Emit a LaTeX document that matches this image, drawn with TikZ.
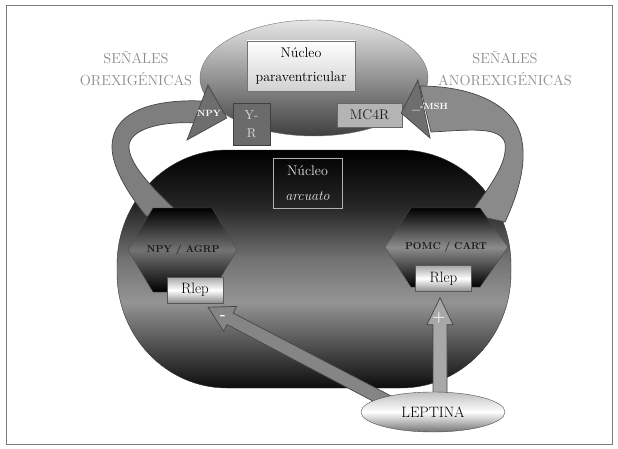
\documentclass[tikz,border=0pt]{standalone}
\usepackage{fontspec}
\definecolor{Sigcol}{HTML}{8C8C8C}
\definecolor{Framecol}{HTML}{7A7A7A}
\definecolor{Ribcol}{HTML}{7E7E7E}
\definecolor{Ribcoltwo}{HTML}{8A8A8A}
\definecolor{Ribedge}{HTML}{454545}
\definecolor{Headcol}{HTML}{6E6E6E}
\definecolor{Ycol}{HTML}{6B6B6B}
\definecolor{Mcol}{HTML}{B4B4B4}
\definecolor{Lcol}{HTML}{858585}
\definecolor{Rcol}{HTML}{A8A8A8}
\definecolor{Textcol}{HTML}{1A1A1A}
\usetikzlibrary{calc, positioning, shapes.geometric}
\pgfdeclareverticalshading{arcshade}{100bp}{color(0bp)=(black); color(25bp)=(black!95);
    color(43bp)=(black!42); color(52bp)=(black!55); color(63bp)=(black!85); color(75bp)=(black); color(100bp)=(black)}
\tikzset{
    font=\rmfamily,
    ribbon/.style={draw=Ribedge, line width=0.7pt, fill=Ribcol},
    ribhead/.style={fill=Headcol, draw=Ribedge, line width=0.7pt},
    riblabel/.style={text=white, font=\bfseries\fontsize{9}{10}\selectfont, inner sep=0pt},
    siglabel/.style={text=Sigcol, align=center, inner sep=0pt, font=\fontsize{14.5}{22}\selectfont},
    pvbox/.style={draw=black!55, top color=white, bottom color=black!18, minimum width=108pt, minimum height=50pt, align=center, inner sep=0pt, font=\fontsize{14}{24}\selectfont},
    yrbox/.style={draw=black!75, fill=Ycol, minimum width=37pt, minimum height=42pt, align=center, inner sep=0pt, text=black!12, font=\fontsize{13}{18}\selectfont},
    mcbox/.style={draw=black!60, fill=Mcol, minimum width=65pt, minimum height=24pt, inner sep=0pt, text=Textcol, font=\fontsize{14}{16}\selectfont},
    arcbox/.style={draw=black!30, minimum width=69pt, minimum height=50pt, align=center, inner sep=0pt, text=black!10, font=\fontsize{14}{25}\selectfont},
    hexfill/.style={top color=black, bottom color=black, middle color=black!55, draw=black!70},
    hexlabel/.style={text=Textcol, font=\bfseries\fontsize{10}{12}\selectfont, inner sep=0pt},
    rlepbox/.style={draw=black!65, top color=black!35, bottom color=black!45, middle color=white, minimum width=56pt, minimum height=26pt, inner sep=0pt, font=\fontsize{15}{17}\selectfont},
    lepnode/.style={ellipse, draw=black!70, top color=black!25, bottom color=black!55, middle color=white, minimum width=144pt, minimum height=40pt, inner sep=0pt, font=\fontsize{15}{17}\selectfont},
    signlabel/.style={text=white, font=\bfseries\fontsize{15}{17}\selectfont, inner sep=0pt}
}
% block arrow: style, start, tip, half shaft, half head, head length
\newcommand{\blockarrow}[6]{%
    \coordinate (ba-s) at (#2);
    \coordinate (ba-t) at (#3);
    \coordinate (ba-b) at ($(ba-t)!#6!(ba-s)$);
    \filldraw[#1] ($(ba-s)!#4!90:(ba-t)$) -- ($(ba-b)!#4!90:(ba-t)$) -- ($(ba-b)!#5!90:(ba-t)$)
        -- (ba-t) -- ($(ba-b)!#5!-90:(ba-t)$) -- ($(ba-b)!#4!-90:(ba-t)$) -- ($(ba-s)!#4!-90:(ba-t)$) -- cycle;
}

\begin{document}
\begin{tikzpicture}[x=1pt, y=1pt]
    % Canvas and frame
    \useasboundingbox (0,0) rectangle (618,448);
    \draw[Framecol, line width=0.8pt] (6,4) rectangle (612,443);

    % Signal labels
    \node[siglabel] (orexi) at (136,379) {SEÑALES\\OREXIGÉNICAS};
    \node[siglabel] (anorexi) at (505,379) {SEÑALES\\ANOREXIGÉNICAS};

    % Arcuate nucleus body
    \shade[shading=arcshade, draw=black!80]
        (227,298) -- (401,298) arc[start angle=90, end angle=0, x radius=110pt, y radius=115pt]
        -- (511,175) arc[start angle=0, end angle=-90, x radius=110pt, y radius=115pt]
        -- (227,60) arc[start angle=270, end angle=180, x radius=110pt, y radius=115pt]
        -- (117,183) arc[start angle=180, end angle=90, x radius=110pt, y radius=115pt] -- cycle;
    \node[arcbox] (ARC) at (307.5,265) {Núcleo\\{\itshape arcuato}};

    % Paraventricular nucleus and receptors
    \shade[top color=black!10, bottom color=black!75, draw=black!55] (314,370) ellipse [x radius=114pt, y radius=58pt];
    \node[pvbox] (PV) at (301,382) {Núcleo\\paraventricular};
    \node[yrbox] (YR) at (251.5,324) {Y-\\R};
    \node[mcbox] (MC) at (369.5,333) {MC4R};

    % Orexigenic ribbon (NPY -> Y-R)
    \coordinate (npyT) at ($(YR.west)+(-6,6)$);
    \filldraw[ribbon] (146,232) .. controls (122,262) and (108,290) .. (113,310)
        .. controls (118,335) and (150,349) .. (202,347)
        -- (196,325) .. controls (158,327) and (131,318) .. (129,303)
        .. controls (128,285) and (150,262) .. (180,234) -- cycle;
    \filldraw[ribhead] (npyT) -- (208,363) -- (187,308) -- cycle;
    \node[riblabel] (npy) at (209,335) {NPY};

    % Anorexigenic ribbon (MSH -> MC4R)
    \coordinate (mshT) at ($(MC.east)+(-1,2)$);
    \filldraw[ribbon, fill=Ribcoltwo] (505,226) .. controls (520,258) and (528,290) .. (520,315)
        .. controls (510,345) and (470,362) .. (420,362)
        -- (431,316) .. controls (470,318) and (500,322) .. (505,305)
        .. controls (508,285) and (490,262) .. (470,234) -- cycle;
    \filldraw[ribhead] (mshT) -- (418,368) -- (430,310) -- cycle;
    \node[riblabel] (msh) at (430,341) {\_-MSH};

    % Neuron groups
    \shade[hexfill] (153,240) -- (212,240) -- (237,198) -- (212,156) -- (153,156) -- (128,198) -- cycle;
    \node[hexlabel] (agrp) at (183,198) {NPY / AGRP};
    \shade[hexfill, middle color=black!45] (411,240) -- (480,240) -- (508,201) -- (480,161) -- (411,161) -- (385,201) -- cycle;
    \node[hexlabel] (cart) at (446,201) {POMC / CART};

    % Leptin receptors
    \node[rlepbox] (rlepL) at (195,158) {Rlep};
    \node[rlepbox] (rlepR) at (443.5,169.5) {Rlep};

    % Leptin arrows
    \coordinate (lepC) at (433,36);
    \blockarrow{fill=Lcol, draw=Ribedge, line width=0.7pt}{$(lepC)+(-33,4)$}{$(rlepL.south)+(13,-4)$}{6.5pt}{14pt}{25pt}
    \blockarrow{fill=Rcol, draw=Ribedge, line width=0.7pt}{$(lepC)+(7,0)$}{$(rlepR.south)+(-3.5,-6)$}{7pt}{13pt}{27pt}
    \node[signlabel] (minus) at (223,131) {-};
    \node[signlabel] (plus) at (439,130) {+};

    % Leptin
    \node[lepnode] (lep) at (lepC) {LEPTINA};
\end{tikzpicture}
\end{document}
